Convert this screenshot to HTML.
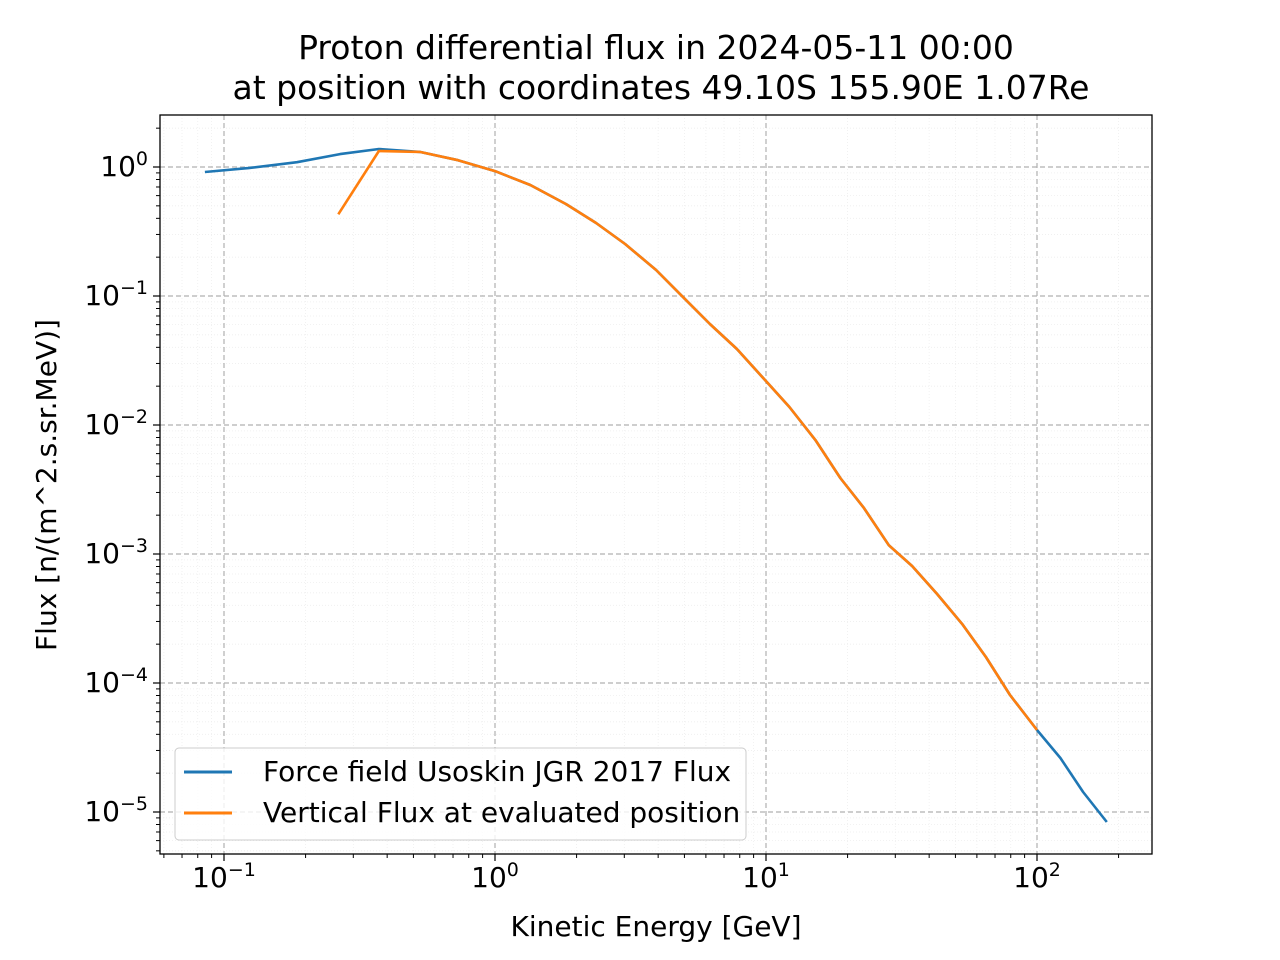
<!DOCTYPE html>
<html><head><meta charset="utf-8"><style>
html,body{margin:0;padding:0;background:#fff}
svg{display:block;font-family:"DejaVu Sans","Liberation Sans",sans-serif}
</style></head><body>
<svg id="chart" width="1280" height="960" viewBox="0 0 1280 960">
<text x="656" y="59" font-size="33" text-anchor="middle">Proton differential flux in 2024-05-11 00:00</text>
<text x="661" y="99" font-size="33" text-anchor="middle">at position with coordinates 49.10S 155.90E 1.07Re</text>
<g id="grid"></g>
<g id="series"></g>
<rect x="160" y="115" width="992" height="739" fill="none" stroke="#000" stroke-width="1.3"/>
<g id="ticks"></g>
<text x="656" y="936" font-size="28" text-anchor="middle">Kinetic Energy [GeV]</text>
<text transform="translate(56,485) rotate(-90)" font-size="28" text-anchor="middle">Flux [n/(m^2.s.sr.MeV)]</text>
<g>
<rect x="175" y="748" width="571" height="92" rx="4" fill="#fff" fill-opacity="0.8" stroke="#ccc"/>
<line x1="184" y1="772" x2="232" y2="772" stroke="#1f77b4" stroke-width="3"/>
<text x="263" y="781" font-size="28">Force field Usoskin JGR 2017 Flux</text>
<line x1="184" y1="813" x2="232" y2="813" stroke="#ff7f0e" stroke-width="3"/>
<text x="263" y="822" font-size="28">Vertical Flux at evaluated position</text>
</g>
</svg>
<script>
const energyForce=[0.085,0.123,0.186,0.268,0.373,0.528,0.73,1.0,1.35,1.83,2.36,3.02,3.93,4.94,6.21,7.81,10,12.2,15.2,18.8,23,28.4,34.6,42.8,52.9,64.8,79.5,100,122,148,181];
const fluxForce=[0.915,0.98,1.09,1.26,1.38,1.31,1.13,0.93,0.725,0.516,0.368,0.253,0.159,0.098,0.0607,0.0388,0.0219,0.0138,0.00766,0.00388,0.00227,0.00117,0.000807,0.00049,0.000287,0.000159,8.07e-5,4.32e-5,2.62e-5,1.43e-5,8.36e-6];
const energyVert=[0.264,0.373,0.528,0.73,1.0,1.35,1.83,2.36,3.02,3.93,4.94,6.21,7.81,10,12.2,15.2,18.8,23,28.4,34.6,42.8,52.9,64.8,79.5,100];
const fluxVert=[0.43,1.33,1.31,1.13,0.93,0.725,0.516,0.368,0.253,0.159,0.098,0.0607,0.0388,0.0219,0.0138,0.00766,0.00388,0.00227,0.00117,0.000807,0.00049,0.000287,0.000159,8.07e-5,4.32e-5];
const xDecades=[-1,0,1,2];
const yDecades=[0,-1,-2,-3,-4,-5];

const NS="http://www.w3.org/2000/svg";
const L=160,R=1152,T=115,B=854;
function xs(v){return 495+271*Math.log10(v);}
function ys(v){return 167-129*Math.log10(v);}
function mk(tag,attrs,parent){const e=document.createElementNS(NS,tag);for(const k in attrs)e.setAttribute(k,attrs[k]);parent.appendChild(e);return e;}
const grid=document.getElementById('grid'),ticks=document.getElementById('ticks'),series=document.getElementById('series');
for(let d=-2;d<=2;d++)for(let m=2;m<=9;m++){const v=m*Math.pow(10,d);const x=xs(v);if(x<L||x>R)continue;
 const g=mk('line',{x1:x,x2:x,y1:T,y2:B,stroke:'#eee','stroke-width':0.8,'stroke-dasharray':'1,2'},grid);
 
 
 const t=mk('line',{x1:x,x2:x,y1:B,y2:B+4,stroke:'#000','stroke-width':1},ticks);
 
 }
for(let d=-6;d<=0;d++)for(let m=2;m<=9;m++){const v=m*Math.pow(10,d);const y=ys(v);if(y<T||y>B)continue;
 const g=mk('line',{x1:L,x2:R,y1:y,y2:y,stroke:'#eee','stroke-width':0.8,'stroke-dasharray':'1,2'},grid);
 
 
 const t=mk('line',{x1:L-4,x2:L,y1:y,y2:y,stroke:'#000','stroke-width':1},ticks);
 
 }
xDecades.forEach(d=>{const x=xs(Math.pow(10,d));
 const g=mk('line',{x1:x,x2:x,y1:T,y2:B,stroke:'#b0b0b0','stroke-width':1.2,'stroke-dasharray':'5,3'},grid);
 
 
 const t=mk('line',{x1:x,x2:x,y1:B,y2:B+7,stroke:'#000','stroke-width':1.2},ticks);
 
 
 const tx=mk('text',{x:x,y:B+33,'font-size':28,'text-anchor':'middle'},ticks);
 
 
 tx.innerHTML='10<tspan dy="-11" font-size="19">'+(d<0?'\u2212'+(-d):d)+'</tspan>';});
yDecades.forEach(d=>{const y=ys(Math.pow(10,d));
 const g=mk('line',{x1:L,x2:R,y1:y,y2:y,stroke:'#b0b0b0','stroke-width':1.2,'stroke-dasharray':'5,3'},grid);
 
 
 const t=mk('line',{x1:L-7,x2:L,y1:y,y2:y,stroke:'#000','stroke-width':1.2},ticks);
 
 
 const tx=mk('text',{x:L-12,y:y+9,'font-size':28,'text-anchor':'end'},ticks);
 
 
 tx.innerHTML='10<tspan dy="-11" font-size="19">'+(d<0?'\u2212'+(-d):d)+'</tspan>';});
function line(xsArr,ysArr,color,name){const pts=xsArr.map((v,i)=>xs(v).toFixed(1)+','+ys(ysArr[i]).toFixed(1)).join(' ');
 const p=mk('polyline',{points:pts,fill:'none',stroke:color,'stroke-width':2.6,'stroke-linejoin':'round'},series);
 
 }
line(energyForce,fluxForce,'#1f77b4','force-field-line');
line(energyVert,fluxVert,'#ff7f0e','vertical-flux-line');
</script>
</body></html>
